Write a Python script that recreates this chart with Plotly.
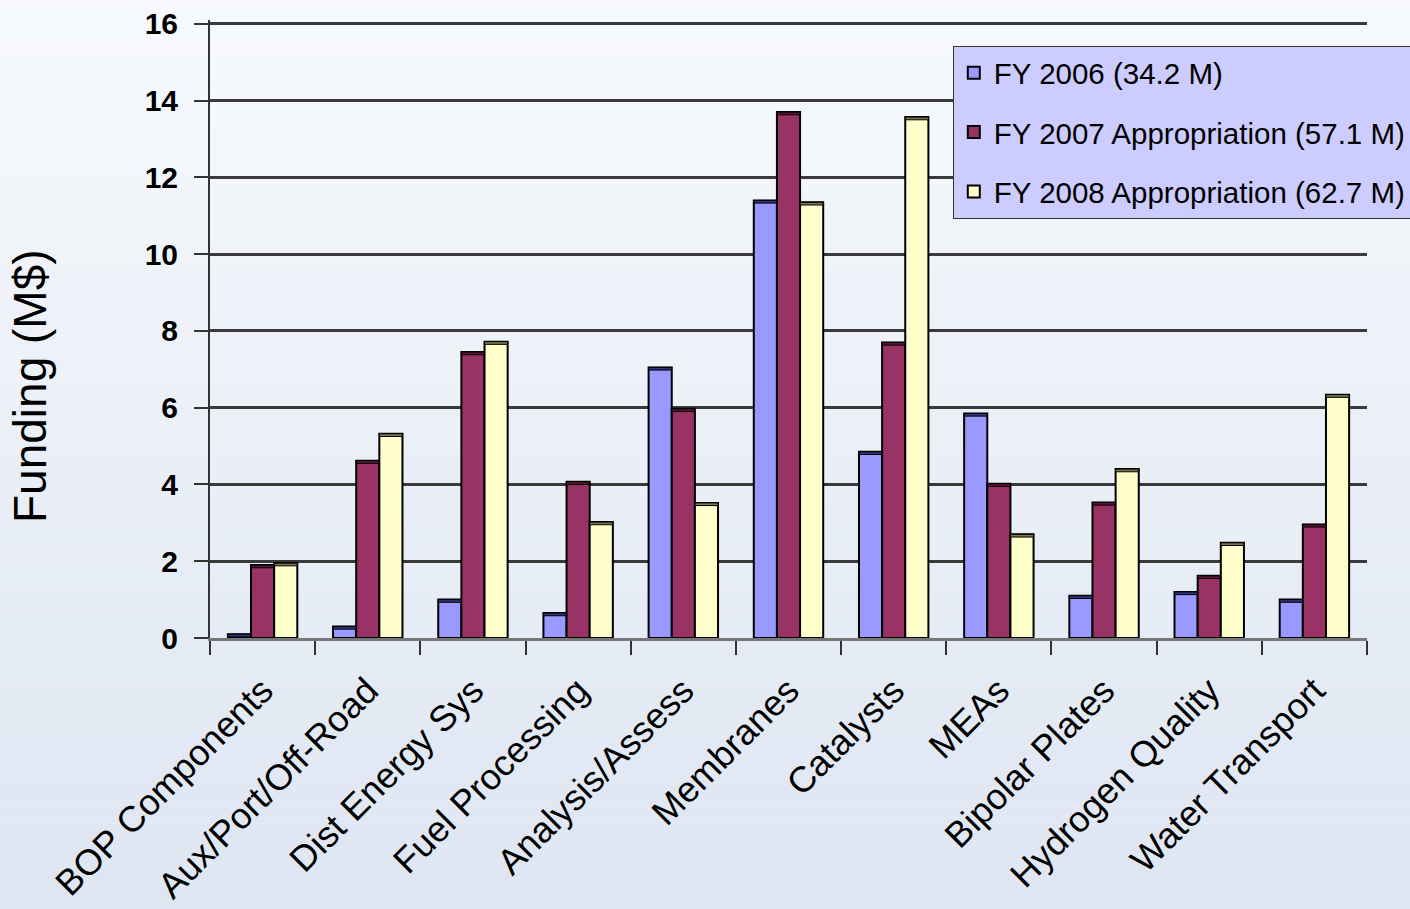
import plotly.graph_objects as go

categories = ["BOP Components", "Aux/Port/Off-Road", "Dist Energy Sys", "Fuel Processing",
              "Analysis/Assess", "Membranes", "Catalysts", "MEAs", "Bipolar Plates",
              "Hydrogen Quality", "Water Transport"]
fy2006 = [0.1, 0.3, 1.0, 0.65, 7.05, 11.4, 4.85, 5.85, 1.1, 1.2, 1.0]
fy2007 = [1.9, 4.62, 7.45, 4.07, 5.97, 13.7, 7.7, 4.02, 3.53, 1.62, 2.96]
fy2008 = [1.95, 5.32, 7.72, 3.02, 3.52, 11.35, 13.57, 2.7, 4.4, 2.48, 6.34]
series_names = ["FY 2006 (34.2 M)", "FY 2007 Appropriation (57.1 M)", "FY 2008 Appropriation (62.7 M)"]
colors = ["#9999ff", "#993366", "#ffffcc"]
cap_colors = ["#33337a", "#5a1535", "#7a7a55"]
y_ticks = [0, 2, 4, 6, 8, 10, 12, 14, 16]

fig = go.Figure()
cap_h = 0.07
for i, (vals, name, col) in enumerate(zip([fy2006, fy2007, fy2008], series_names, colors)):
    fig.add_trace(go.Bar(x=categories, y=vals, name=name, marker_color=col,
                         marker_line_color="#000000", marker_line_width=2,
                         offsetgroup=str(i), legendgroup=str(i)))
for i, (vals, capc) in enumerate(zip([fy2006, fy2007, fy2008], cap_colors)):
    fig.add_trace(go.Bar(x=categories, y=[cap_h] * len(vals), base=[v - cap_h for v in vals],
                         marker_color=capc, marker_line_color="#000000", marker_line_width=1,
                         offsetgroup=str(i), showlegend=False, hoverinfo="skip"))

# background gradient bands (paper coordinates)
shapes = []
n = 40
top = (247, 249, 252)
bot = (222, 230, 242)
for k in range(n):
    t = k / (n - 1)
    c = tuple(int(round(top[j] + (bot[j] - top[j]) * t)) for j in range(3))
    shapes.append(dict(type="rect", xref="paper", yref="paper",
                       x0=-0.2, x1=1.1, y0=1.05 - (k + 1) * (1.5 / n), y1=1.05 - k * (1.5 / n),
                       fillcolor="rgb(%d,%d,%d)" % c, line_width=0, layer="below"))

plot_h = 909 - 271 - 20
fig.update_layout(
    width=1410, height=909,
    margin=dict(l=210, r=43, t=20, b=271, autoexpand=False),
    paper_bgcolor="#eef2f8",
    plot_bgcolor="rgba(0,0,0,0)",
    barmode="group", bargap=0.34, bargroupgap=0.0,
    font=dict(family="Liberation Sans, Arial, sans-serif", color="#000000"),
    shapes=shapes,
    legend=dict(x=0.642, y=(638 - 46) / plot_h, xanchor="left", yanchor="top",
                bgcolor="#ccccff", bordercolor="#333333", borderwidth=1,
                font=dict(size=29.5, family="Liberation Sans, Arial, sans-serif"),
                traceorder="grouped", tracegroupgap=18, itemwidth=30),
    showlegend=True,
    annotations=[dict(text="Funding (M$)", xref="paper", yref="paper",
                      x=(30 - 210) / 1157, y=(638 - 386) / plot_h, xanchor="center", yanchor="middle",
                      textangle=-90, showarrow=False,
                      font=dict(size=46, family="Liberation Sans, Arial, sans-serif"))],
)
fig.update_yaxes(range=[0, 16.1], tickvals=y_ticks, ticktext=[str(v) for v in y_ticks],
                 tickfont=dict(size=30, family="Liberation Sans, Arial, sans-serif", weight="bold"),
                 showgrid=True, gridcolor="#3a3a3a", gridwidth=2.5,
                 showline=True, linecolor="#333333", linewidth=2,
                 ticks="outside", ticklen=14, tickcolor="#333333", tickwidth=2,
                 ticklabelstandoff=10, zeroline=False)
fig.update_xaxes(tickangle=-45, tickfont=dict(size=36),
                 showline=True, linecolor="#777777", linewidth=3,
                 ticks="outside", ticklen=14, tickcolor="#333333", tickwidth=2,
                 ticklabelstandoff=14,
                 tickson="boundaries", showgrid=False)

fig.write_html("out.html")
